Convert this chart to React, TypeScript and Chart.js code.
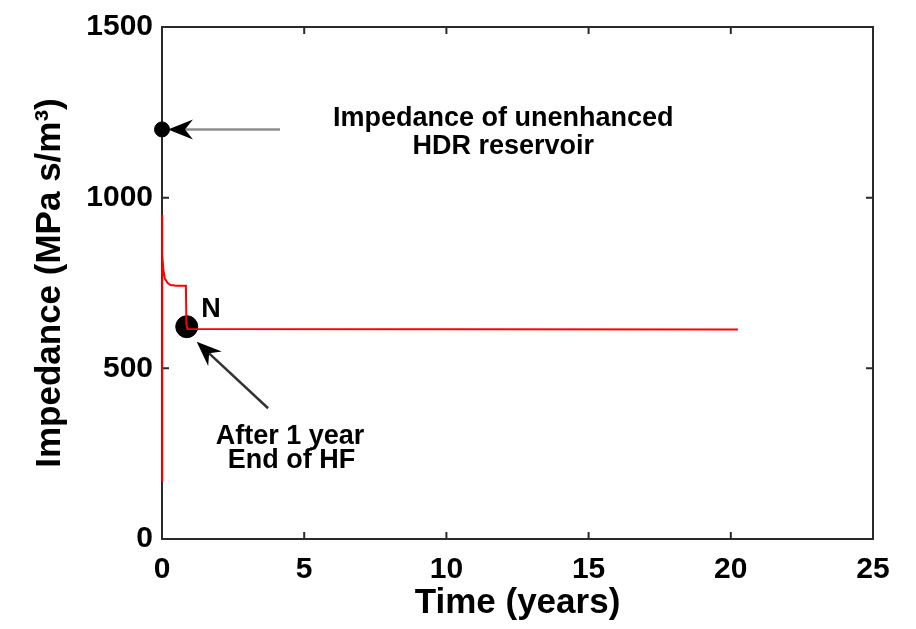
import React, { useEffect, useRef } from "react";
import { Chart, registerables } from "chart.js";

Chart.register(...registerables);

// ---- data ----
const timeYears = [0, 0, 0.01, 0.02, 0.05, 0.1, 0.2, 0.3, 0.5, 0.84, 0.86, 0.9, 20.25];
const impedance = [170, 950, 890, 830, 788, 763, 750, 744, 742, 742, 628, 615, 614];

const unenhancedTime = [0];
const unenhancedImpedance = [1200];

const nodeTime = [0.87];
const nodeImpedance = [622];

const xTicks = [0, 5, 10, 15, 20, 25];
const yTicks = [0, 500, 1000, 1500];

const noteTexts = ["Impedance of unenhanced", "HDR reservoir", "N", "After 1 year", "End of HF"];
const noteX = [12, 12, 1.72, 4.5, 4.55];
const noteY = [1211, 1127, 651, 278, 208];

const arrowFromX = [4.15, 3.73];
const arrowFromY = [1200, 383];
const arrowToX = [0.21, 1.22];
const arrowToY = [1200, 578];
const arrowShaftColors = ["#8e8e8e", "#333333"];

const FONT = "'Liberation Sans', Arial, sans-serif";

function drawArrow(ctx: CanvasRenderingContext2D, x1: number, y1: number, x2: number, y2: number, shaft: string) {
  const ang = Math.atan2(y2 - y1, x2 - x1);
  const len = 25;
  const half = 10;
  const notch = 17;
  const cos = Math.cos(ang), sin = Math.sin(ang);
  ctx.strokeStyle = shaft;
  ctx.lineWidth = 2.5;
  ctx.beginPath();
  ctx.moveTo(x1, y1);
  ctx.lineTo(x2 - cos * notch, y2 - sin * notch);
  ctx.stroke();
  const bx = x2 - cos * len, by = y2 - sin * len;
  const nx = x2 - cos * notch, ny = y2 - sin * notch;
  ctx.fillStyle = "#000";
  ctx.beginPath();
  ctx.moveTo(x2, y2);
  ctx.lineTo(bx - sin * half, by + cos * half);
  ctx.lineTo(nx, ny);
  ctx.lineTo(bx + sin * half, by - cos * half);
  ctx.closePath();
  ctx.fill();
}

const framePlugin = {
  id: "frame",
  beforeDatasetsDraw(chart: any) {
    const { ctx, chartArea: a, scales } = chart;
    const x = scales.x, y = scales.y;
    ctx.save();
    ctx.strokeStyle = "#2a2a2a";
    ctx.lineWidth = 2;
    ctx.strokeRect(a.left, a.top, a.right - a.left, a.bottom - a.top);
    const L = 7;
    ctx.beginPath();
    x.ticks.forEach((t: any) => {
      const px = x.getPixelForValue(t.value);
      ctx.moveTo(px, a.bottom);
      ctx.lineTo(px, a.bottom - L);
      ctx.moveTo(px, a.top);
      ctx.lineTo(px, a.top + L);
    });
    y.ticks.forEach((t: any) => {
      const py = y.getPixelForValue(t.value);
      ctx.moveTo(a.left, py);
      ctx.lineTo(a.left + L, py);
      ctx.moveTo(a.right, py);
      ctx.lineTo(a.right - L, py);
    });
    ctx.stroke();
    ctx.restore();
  },
  afterDatasetsDraw(chart: any) {
    const { ctx, scales } = chart;
    const x = scales.x, y = scales.y;
    ctx.save();
    for (let i = 0; i < arrowFromX.length; i++) {
      drawArrow(
        ctx,
        x.getPixelForValue(arrowFromX[i]),
        y.getPixelForValue(arrowFromY[i]),
        x.getPixelForValue(arrowToX[i]),
        y.getPixelForValue(arrowToY[i]),
        arrowShaftColors[i]
      );
    }
    ctx.fillStyle = "#000";
    ctx.textAlign = "center";
    ctx.textBaseline = "alphabetic";
    ctx.font = `bold 27px ${FONT}`;
    for (let i = 0; i < noteTexts.length; i++) {
      ctx.fillText(noteTexts[i], x.getPixelForValue(noteX[i]), y.getPixelForValue(noteY[i]));
    }
    ctx.restore();
  },
};

export default function App() {
  const ref = useRef<HTMLCanvasElement | null>(null);
  useEffect(() => {
    if (!ref.current) return;
    const chart = new Chart(ref.current, {
      type: "scatter",
      data: {
        datasets: [
          {
            data: timeYears.map((t, i) => ({ x: t, y: impedance[i] })),
            showLine: true,
            borderColor: "#ff0000",
            borderWidth: 2,
            pointRadius: 0,
            clip: false as any,
          },
          {
            data: unenhancedTime.map((t, i) => ({ x: t, y: unenhancedImpedance[i] })),
            pointRadius: 7.5,
            backgroundColor: "#000",
            borderColor: "#000",
            clip: false as any,
          },
          {
            data: nodeTime.map((t, i) => ({ x: t, y: nodeImpedance[i] })),
            pointRadius: 11,
            backgroundColor: "#000",
            borderColor: "#000",
            clip: false as any,
          },
        ],
      },
      options: {
        responsive: false,
        animation: false,
        devicePixelRatio: 1,
        layout: { padding: { top: 24, right: 43, left: 0, bottom: 0 } },
        plugins: { legend: { display: false }, tooltip: { enabled: false } },
        scales: {
          x: {
            type: "linear",
            min: 0,
            max: 25,
            afterBuildTicks: (s: any) => { s.ticks = xTicks.map((v) => ({ value: v })); },
            afterFit: (s: any) => { s.height = 90; },
            grid: { display: false, drawTicks: false },
            border: { display: false },
            ticks: {
              color: "#000",
              padding: 13,
              font: { family: FONT, size: 30, weight: "bold" },
              callback: (v: any) => String(v),
            },
            title: {
              display: true,
              text: "Time (years)",
              color: "#000",
              padding: { top: 0, bottom: 5 },
              font: { family: FONT, size: 35, weight: "bold" },
            },
          },
          y: {
            type: "linear",
            min: 0,
            max: 1500,
            afterBuildTicks: (s: any) => { s.ticks = yTicks.map((v) => ({ value: v })); },
            afterFit: (s: any) => { s.width = 162; },
            grid: { display: false, drawTicks: false },
            border: { display: false },
            ticks: {
              color: "#000",
              padding: 9,
              font: { family: FONT, size: 30, weight: "bold" },
              callback: (v: any) => String(v),
            },
            title: {
              display: true,
              text: "Impedance (MPa s/m³)",
              color: "#000",
              padding: { top: 29, bottom: 0 },
              font: { family: FONT, size: 35, weight: "bold" },
            },
          },
        },
      },
      plugins: [framePlugin],
    });
    return () => chart.destroy();
  }, []);
  return (
    <div style={{ position: "fixed", left: 0, top: 0, width: 916, height: 629, background: "#fff" }}>
      <canvas ref={ref} width={916} height={629} style={{ display: "block" }} />
    </div>
  );
}
